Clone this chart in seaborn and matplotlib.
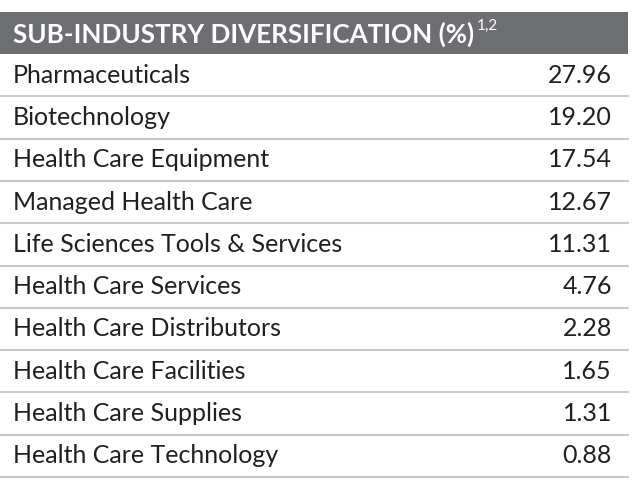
import matplotlib
matplotlib.use("Agg")
import matplotlib.pyplot as plt
import seaborn as sns

sns.set_theme(style="white")
plt.rcParams['font.family'] = ['Lato', 'DejaVu Sans']

# Données du tableau
sub_industries = ["Pharmaceuticals", "Biotechnology", "Health Care Equipment",
                  "Managed Health Care", "Life Sciences Tools & Services",
                  "Health Care Services", "Health Care Distributors",
                  "Health Care Facilities", "Health Care Supplies",
                  "Health Care Technology"]
weights = [27.96, 19.20, 17.54, 12.67, 11.31, 4.76, 2.28, 1.65, 1.31, 0.88]
title = "SUB-INDUSTRY DIVERSIFICATION (%)"
note = "1,2"

fig = plt.figure(figsize=(6.4, 4.97), dpi=100)
ax = fig.add_axes([0, 0, 1, 1])
ax.set_xlim(0, 640)
ax.set_ylim(497, 0)
ax.axis("off")

left, right = 0, 628
top, head_h, row_h = 12, 42, 42.3

# En-tête
ax.add_patch(plt.Rectangle((left, top), right - left, head_h, color="#6d6e71", lw=0))
t = ax.text(13, top + head_h / 2 + 1, title, color="white", fontsize=18.7,
            fontweight="bold", va="center", ha="left")
fig.canvas.draw()
bb = t.get_window_extent().transformed(ax.transData.inverted())
ax.text(bb.x1 + 3, top + 14, note, color="white", fontsize=11, va="center", ha="left")

# Lignes
for i, (name, val) in enumerate(zip(sub_industries, weights)):
    y0 = top + head_h + i * row_h
    yc = y0 + row_h / 2
    ax.text(13, yc, name, fontsize=18, va="center", ha="left", color="#231f20")
    ax.text(612, yc, f"{val:.2f}", fontsize=18, va="center", ha="right", color="#231f20")
    ax.plot([left, right], [y0 + row_h, y0 + row_h], color="#c8c8c8", lw=1.5)

fig.savefig("out.png", dpi=100, facecolor="white")
